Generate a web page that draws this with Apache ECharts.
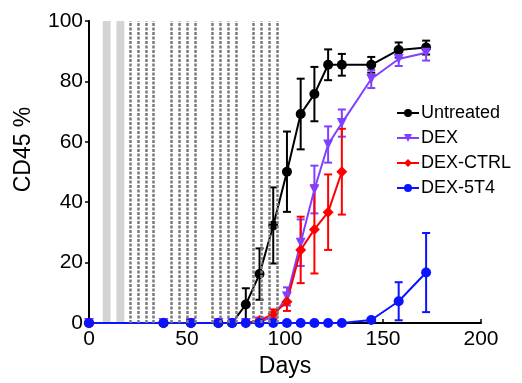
<!DOCTYPE html>
<html>
<head>
<meta charset="utf-8">
<script src="https://cdn.jsdelivr.net/npm/echarts@6/dist/echarts.min.js"></script>
<style>
  html, body { margin: 0; padding: 0; background: #fff; }
  #chart { width: 522px; height: 383px; }
</style>
</head>
<body>
<div id="chart"></div>
<script>
// sampling days (shared by all groups)
const days = [0, 38, 52, 66, 73, 80, 87, 94, 101, 108, 115, 122, 129, 144, 158, 172];

const untreatedVals = [0, 0, 0, 0, 0, 6.1, 16.2, 32.3, 50.1, 69.2, 75.8, 85.5, 85.5, 85.5, 90.4, 91.2];
const untreatedErr  = [0, 0, 0, 0, 0, 5.4, 8.5, 12.6, 13.3, 11.7, 9, 5.1, 3.6, 2.6, 2.5, 2.3];

const dexVals = [0, 0, 0, 0, 0, 0, 0.5, 2, 8.8, 26.6, 44.2, 59.1, 66.2, 80.8, 87.4, 89.5];
const dexErr  = [0, 0, 0, 0, 0, 0, 0, 1, 3, 7.7, 7.9, 6, 4.5, 3, 2.3, 2.6];

const ctrlDays = [0, 38, 52, 66, 73, 80, 87, 94, 101, 108, 115, 122, 129];
const ctrlVals = [0, 0, 0, 0, 0, 0, 0.8, 3.0, 7.0, 24.2, 31.0, 36.7, 50.1];
const ctrlErr  = [0, 0, 0, 0, 0, 0, 0.5, 1.5, 3, 11, 14.6, 12.5, 14.2];

const t4Vals = [0, 0, 0, 0, 0, 0, 0, 0, 0, 0, 0, 0, 0, 1, 7.2, 16.7];
const t4Err  = [0, 0, 0, 0, 0, 0, 0, 0, 0, 0, 0, 0, 0, 0.5, 6.3, 13.1];

// treatment schedule in the background
const doseDays = [21, 25, 29, 33, 42, 46, 50, 54, 63, 67, 71, 75, 84, 88, 92, 96];
const greyBlocks = [[7, 11], [14, 18]];

const xTicks = { min: 0, max: 200, interval: 50 };
const yTicks = { min: 0, max: 100, interval: 20 };

const font = 'Liberation Sans, Arial, Helvetica, sans-serif';

const pairs = (xs, ys) => xs.map((x, i) => [x, ys[i]]);

const errSeries = (name, color, xs, vals, errs) => ({
  name,
  type: 'custom',
  silent: true,
  z: 3,
  data: xs.map((x, i) => [x, Math.max(0, vals[i] - errs[i]), vals[i] + errs[i]])
    .filter((d, i) => errs[i] > 0),
  renderItem: (params, api) => {
    const lo = api.coord([api.value(0), api.value(1)]);
    const hi = api.coord([api.value(0), api.value(2)]);
    const w = 4;
    const style = { stroke: color, lineWidth: 2 };
    return {
      type: 'group',
      children: [
        { type: 'line', shape: { x1: hi[0], y1: hi[1], x2: lo[0], y2: lo[1] }, style },
        { type: 'line', shape: { x1: hi[0] - w, y1: hi[1], x2: hi[0] + w, y2: hi[1] }, style },
        { type: 'line', shape: { x1: lo[0] - w, y1: lo[1], x2: lo[0] + w, y2: lo[1] }, style }
      ]
    };
  }
});

const lineSeries = (name, color, symbol, size, data, extra) => Object.assign({
  name,
  type: 'line',
  data,
  symbol,
  symbolSize: size,
  z: 4,
  lineStyle: { color, width: 2 },
  itemStyle: { color },
  emphasis: { disabled: true }
}, extra || {});

const chart = echarts.init(document.getElementById('chart'));
const option = {
  animation: false,
  textStyle: { fontFamily: font },
  grid: { left: 89, right: 41, top: 21, bottom: 59 },
  legend: {
    data: ['Untreated', 'DEX', 'DEX-CTRL', 'DEX-5T4'],
    orient: 'vertical',
    left: 391,
    top: 99,
    itemWidth: 22,
    itemHeight: 10,
    itemGap: 7,
    textStyle: { fontSize: 18, color: '#000', fontFamily: font, padding: [0, 0, 0, -3] }
  },
  xAxis: {
    type: 'value',
    min: xTicks.min,
    max: xTicks.max,
    interval: xTicks.interval,
    name: 'Days',
    nameLocation: 'middle',
    nameGap: 32,
    nameTextStyle: { fontSize: 23, color: '#000', fontFamily: font },
    axisLine: { lineStyle: { color: '#000', width: 2 } },
    axisTick: { inside: true, length: 4, lineStyle: { color: '#000', width: 1.5 } },
    axisLabel: { fontSize: 21, color: '#000', margin: 6 },
    splitLine: { show: false }
  },
  yAxis: {
    type: 'value',
    min: yTicks.min,
    max: yTicks.max,
    interval: yTicks.interval,
    name: 'CD45 %',
    nameLocation: 'middle',
    nameGap: 54,
    nameTextStyle: { fontSize: 23, color: '#000', fontFamily: font, padding: [0, 0, 0, 45] },
    axisLine: { show: true, lineStyle: { color: '#000', width: 2 } },
    axisTick: { show: true, length: 4, lineStyle: { color: '#000', width: 1.5 } },
    axisLabel: { fontSize: 21, color: '#000', margin: 6 },
    splitLine: { show: false }
  },
  series: [
    lineSeries('Untreated', '#000000', 'circle', 10, pairs(days, untreatedVals), {
      markArea: {
        silent: true,
        itemStyle: { color: '#d4d4d4' },
        data: greyBlocks.map(b => [{ xAxis: b[0] }, { xAxis: b[1] }])
      },
      markLine: {
        silent: true,
        symbol: 'none',
        label: { show: false },
        lineStyle: { color: '#7a7a7a', type: [3, 1.5], width: 2.5 },
        data: doseDays.map(d => ({ xAxis: d }))
      }
    }),
    lineSeries('DEX', '#8040ff', 'triangle', 10, pairs(days, dexVals), { symbolRotate: 180 }),
    lineSeries('DEX-CTRL', '#ff0000', 'diamond', 11, pairs(ctrlDays, ctrlVals)),
    lineSeries('DEX-5T4', '#0a14ff', 'circle', 10, pairs(days, t4Vals)),
    errSeries('Untreated err', '#000000', days, untreatedVals, untreatedErr),
    errSeries('DEX err', '#8040ff', days, dexVals, dexErr),
    errSeries('DEX-CTRL err', '#ff0000', ctrlDays, ctrlVals, ctrlErr),
    errSeries('DEX-5T4 err', '#0a14ff', days, t4Vals, t4Err)
  ]
};
chart.setOption(option);
</script>
</body>
</html>
